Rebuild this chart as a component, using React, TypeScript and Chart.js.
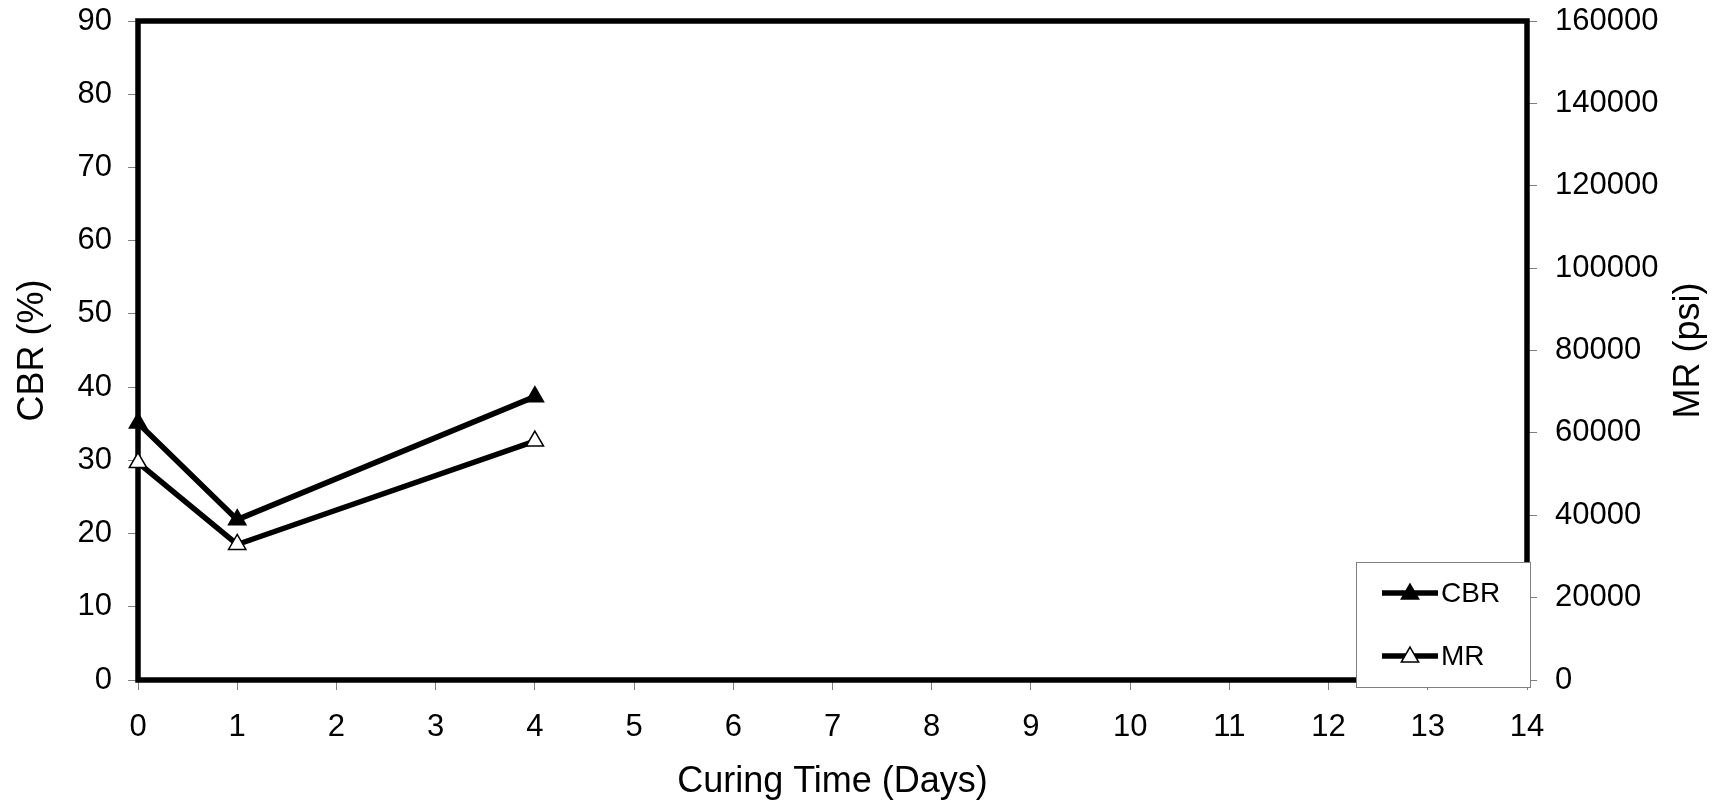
import React, { useEffect, useRef } from 'react';
import { Chart, registerables } from 'chart.js';
import { drawPoint } from 'chart.js/helpers';

Chart.register(...registerables);

// ---- data ----
const days = [0, 1, 4];
const cbrValues = [35.1, 21.9, 38.7];
const mrValues = [52800, 32900, 58000];
const seriesNames = ['CBR', 'MR'];
const xTitle = 'Curing Time (Days)';
const yTitle = 'CBR (%)';
const y1Title = 'MR (psi)';

const FONT = '"Liberation Sans", Arial, Helvetica, sans-serif';

const framePlugin = {
  id: 'frame',
  beforeDatasetsDraw(chart: any) {
    const { ctx, chartArea } = chart;
    ctx.save();
    ctx.strokeStyle = '#000';
    ctx.lineWidth = 5.5;
    ctx.strokeRect(chartArea.left, chartArea.top, chartArea.right - chartArea.left, chartArea.bottom - chartArea.top);
    ctx.restore();
  },
};

const rightTitlePlugin = {
  id: 'rightTitle',
  afterDraw(chart: any) {
    const { ctx, chartArea } = chart;
    ctx.save();
    ctx.translate(chart.width - 42, (chartArea.top + chartArea.bottom) / 2);
    ctx.rotate(-Math.PI / 2);
    ctx.font = `36px ${FONT}`;
    ctx.fillStyle = '#000';
    ctx.textAlign = 'center';
    ctx.textBaseline = 'middle';
    ctx.fillText(y1Title, 0, 0);
    ctx.restore();
  },
};

const legendPlugin = {
  id: 'boxLegend',
  afterDraw(chart: any) {
    const { ctx } = chart;
    const bx = 1356, by = 562, bw = 174, bh = 125;
    ctx.save();
    ctx.fillStyle = '#fff';
    ctx.fillRect(bx, by, bw, bh);
    ctx.strokeStyle = '#808080';
    ctx.lineWidth = 1;
    ctx.strokeRect(bx + 0.5, by + 0.5, bw, bh);
    const rows = [593, 656];
    chart.data.datasets.forEach((ds: any, i: number) => {
      const y = rows[i];
      ctx.strokeStyle = ds.borderColor;
      ctx.lineWidth = ds.borderWidth;
      ctx.beginPath();
      ctx.moveTo(1382, y);
      ctx.lineTo(1438, y);
      ctx.stroke();
      ctx.fillStyle = ds.pointBackgroundColor;
      ctx.strokeStyle = ds.pointBorderColor;
      ctx.lineWidth = ds.pointBorderWidth;
      drawPoint(ctx, { pointStyle: 'triangle', radius: ds.pointRadius, borderWidth: ds.pointBorderWidth, rotation: 0 }, 1410, y + 1);
      ctx.fillStyle = '#000';
      ctx.font = `28px ${FONT}`;
      ctx.textAlign = 'left';
      ctx.textBaseline = 'middle';
      ctx.fillText(ds.label, 1441, y + 1);
    });
    ctx.restore();
  },
};

export default function App() {
  const ref = useRef<HTMLCanvasElement | null>(null);

  useEffect(() => {
    if (!ref.current) return;
    const tickFont = { family: FONT, size: 31 };
    const chart = new Chart(ref.current, {
      type: 'line',
      data: {
        datasets: [
          {
            label: seriesNames[0],
            data: days.map((d, i) => ({ x: d, y: cbrValues[i] })),
            yAxisID: 'y',
            borderColor: '#000',
            borderWidth: 5.5,
            pointStyle: 'triangle',
            pointRadius: 10,
            pointBackgroundColor: '#000',
            pointBorderColor: '#000',
            pointBorderWidth: 1.5,
            clip: false,
          } as any,
          {
            label: seriesNames[1],
            data: days.map((d, i) => ({ x: d, y: mrValues[i] })),
            yAxisID: 'y1',
            borderColor: '#000',
            borderWidth: 5.5,
            pointStyle: 'triangle',
            pointRadius: 10,
            pointBackgroundColor: '#fff',
            pointBorderColor: '#000',
            pointBorderWidth: 1.5,
            clip: false,
          } as any,
        ],
      },
      options: {
        animation: false,
        responsive: true,
        maintainAspectRatio: false,
        layout: { padding: { top: 21, left: 0, right: 0, bottom: 0 } },
        plugins: {
          legend: { display: false },
          tooltip: { enabled: false },
        },
        scales: {
          x: {
            type: 'linear',
            min: 0,
            max: 14,
            ticks: { stepSize: 1, font: tickFont, color: '#000', padding: 19, maxRotation: 0 },
            grid: { drawOnChartArea: false, color: '#808080', tickLength: 10, lineWidth: 1 },
            border: { display: false },
            title: { display: true, text: xTitle, font: { family: FONT, size: 36 }, color: '#000', padding: { top: 0, bottom: 0 } },
            afterFit: (s: any) => { s.height = 124; s.paddingLeft = 0; s.paddingRight = 0; },
          },
          y: {
            type: 'linear',
            position: 'left',
            min: 0,
            max: 90,
            ticks: { stepSize: 10, font: tickFont, color: '#000', padding: 16 },
            grid: { drawOnChartArea: false, color: '#808080', tickLength: 10, lineWidth: 1 },
            border: { display: false },
            title: { display: true, text: yTitle, font: { family: FONT, size: 36 }, color: '#000', padding: { top: 11, bottom: 0 } },
            afterFit: (s: any) => { s.width = 138; s.paddingTop = 0; s.paddingBottom = 0; },
          },
          y1: {
            type: 'linear',
            position: 'right',
            min: 0,
            max: 160000,
            ticks: { stepSize: 20000, font: tickFont, color: '#000', padding: 18, callback: (v: any) => String(v) },
            grid: { drawOnChartArea: false, color: '#808080', tickLength: 10, lineWidth: 1 },
            border: { display: false },
            afterFit: (s: any) => { s.width = 204; s.paddingTop = 0; s.paddingBottom = 0; },
          },
        },
      } as any,
      plugins: [framePlugin, rightTitlePlugin, legendPlugin],
    });
    return () => chart.destroy();
  }, []);

  return (
    <div style={{ position: 'fixed', left: 0, top: 0, width: 1731, height: 804, background: '#fff' }}>
      <canvas ref={ref} />
    </div>
  );
}
